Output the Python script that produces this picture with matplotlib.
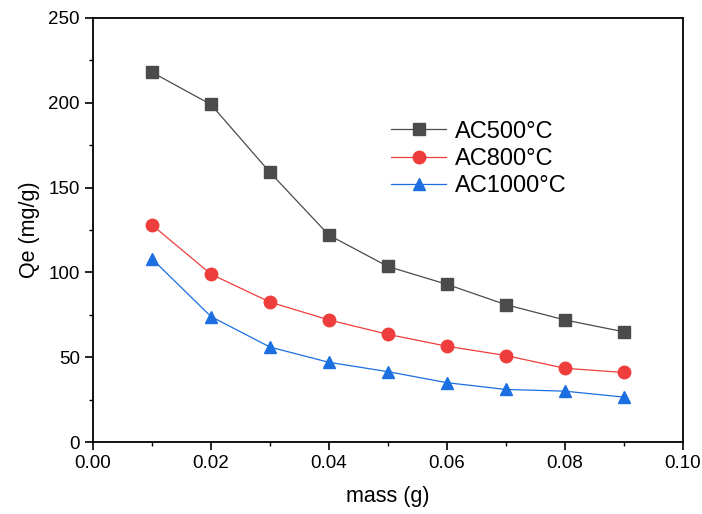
import matplotlib
matplotlib.use('Agg')
import matplotlib.pyplot as plt
from matplotlib.ticker import MultipleLocator

plt.rcParams['font.family'] = ['Liberation Sans', 'DejaVu Sans']

mass = [0.01, 0.02, 0.03, 0.04, 0.05, 0.06, 0.07, 0.08, 0.09]
qe_500 = [218, 199, 159, 122, 103.5, 93, 81, 72, 65]
qe_800 = [128, 99, 82.5, 72, 63.5, 56.5, 51, 43.5, 41]
qe_1000 = [108, 74, 56, 47, 41.5, 35, 31, 30, 26.5]

fig = plt.figure(figsize=(7.02, 5.14), dpi=100)
ax = fig.add_axes([0.1325, 0.140, 0.840, 0.825])

ax.plot(mass, qe_500, color='#4b4b4b', lw=0.9, marker='s', ms=8, label='AC500°C')
ax.plot(mass, qe_800, color='#ef3d3d', lw=0.9, marker='o', ms=9, label='AC800°C')
ax.plot(mass, qe_1000, color='#1b6fe0', lw=0.9, marker='^', ms=9, label='AC1000°C')

ax.set_xlim(0, 0.10)
ax.set_ylim(0, 250)
ax.xaxis.set_major_locator(MultipleLocator(0.02))
ax.xaxis.set_minor_locator(MultipleLocator(0.01))
ax.yaxis.set_major_locator(MultipleLocator(50))
ax.yaxis.set_minor_locator(MultipleLocator(25))
ax.xaxis.set_major_formatter(matplotlib.ticker.FormatStrFormatter('%.2f'))
ax.tick_params(which='major', direction='out', length=6, width=1.2, labelsize=13.5)
ax.tick_params(which='minor', direction='out', length=3, width=1.0)
for s in ax.spines.values():
    s.set_linewidth(1.3)

ax.set_xlabel('mass (g)', fontsize=15.5, labelpad=10)
ax.set_ylabel('Qe (mg/g)', fontsize=15.5, labelpad=6)

ax.legend(loc='upper left', bbox_to_anchor=(0.49, 0.78), frameon=False,
          fontsize=17, handlelength=2.3, handletextpad=0.4,
          labelspacing=0.22, borderaxespad=0)

fig.savefig('out.png', dpi=100)
